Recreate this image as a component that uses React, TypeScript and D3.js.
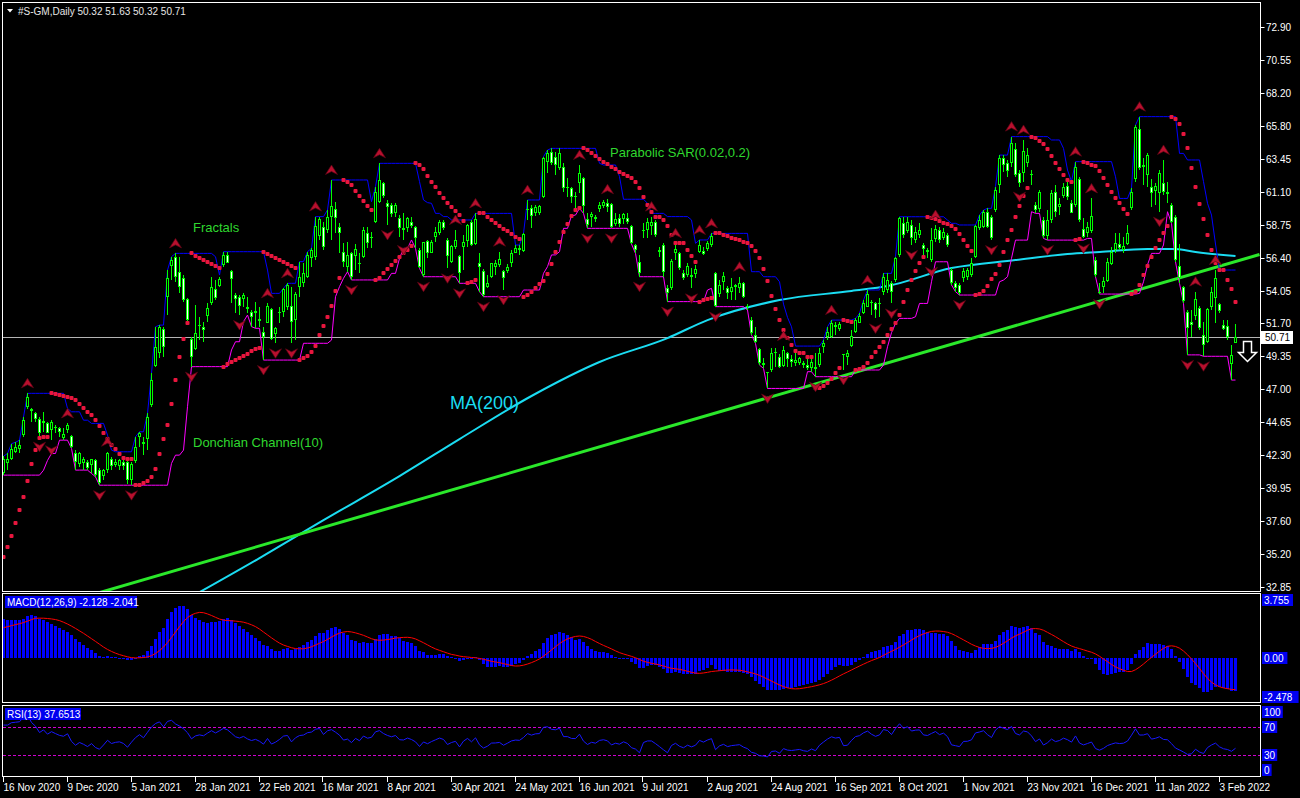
import * as d3 from "d3";

// daily candles, 16 Nov 2020 .. 8 Feb 2022
const opens = [
  41.0, 41.75, 42.0, 42.5, 42.7, 43.7, 45.75, 45.55, 45.26, 44.9,
  44.6, 44.6, 44.07, 44.31, 44.2, 43.54, 44.07, 43.64, 42.4, 41.64,
  41.69, 41.76, 41.57, 41.92, 41.21, 40.78, 41.21, 42.04, 41.57, 41.5,
  41.8, 41.8, 40.49, 41.88, 43.59, 43.23, 43.4, 45.86, 48.65, 49.55,
  51.27, 53.56, 55.8, 56.47, 55.4, 54.93, 53.42, 50.56, 49.85, 51.5,
  51.47, 52.23, 53.14, 54.14, 54.4, 55.88, 56.59, 55.45, 53.73, 53.61,
  53.42, 52.85, 52.54, 52.47, 51.99, 51.11, 51.75, 52.71, 50.94, 52.47,
  52.54, 52.9, 52.97, 51.94, 54.28, 54.61, 55.0, 56.36, 56.43, 57.95,
  58.57, 58.38, 59.29, 59.86, 58.57, 56.83, 55.76, 56.71, 56.5, 56.0,
  56.47, 58.19, 57.79, 58.98, 60.41, 61.72, 60.34, 60.17, 59.57, 59.22,
  58.55, 58.5, 58.95, 58.62, 56.95, 55.16, 57.62, 56.76, 57.86, 58.14,
  58.98, 57.67, 56.12, 57.14, 56.52, 57.19, 57.62, 58.98, 57.38, 56.05,
  55.47, 54.33, 55.04, 55.71, 55.88, 55.47, 55.47, 56.0, 56.76, 57.1,
  56.9, 59.8, 59.97, 59.57, 59.62, 60.77, 63.27, 63.98, 63.63, 62.79,
  62.91, 61.48, 61.36, 60.81, 61.72, 62.08, 59.15, 59.29, 59.29, 59.86,
  60.1, 60.29, 60.24, 58.81, 59.22, 59.15, 59.22, 58.67, 57.31, 56.12,
  58.3, 58.38, 58.67, 58.98, 56.95, 57.31, 54.21, 54.21, 56.76, 56.71,
  55.33, 55.16, 55.16, 55.23, 56.83, 56.9, 57.0, 57.31, 55.28, 53.8,
  54.68, 54.21, 53.97, 54.33, 54.21, 54.62, 52.94, 51.94, 50.87, 49.85,
  48.84, 48.2, 48.37, 49.56, 49.32, 48.65, 49.61, 49.13, 48.89, 48.84,
  48.84, 48.72, 48.48, 48.6, 48.72, 50.03, 50.7, 50.7, 51.58, 51.27,
  49.44, 49.32, 50.08, 51.11, 51.75, 52.42, 52.85, 53.25, 53.13, 53.18,
  53.97, 54.09, 54.56, 54.8, 56.59, 58.86, 58.33, 58.74, 57.66, 58.02,
  57.31, 56.95, 56.23, 57.72, 58.38, 57.78, 58.02, 55.52, 54.56, 54.45,
  54.92, 55.04, 55.16, 56.47, 58.5, 58.59, 59.69, 59.33, 59.81, 61.6,
  63.51, 63.2, 63.2, 64.15, 62.43, 62.48, 63.15, 62.38, 60.17, 59.86,
  59.09, 57.95, 59.09, 61.12, 60.0, 60.82, 61.53, 60.29, 60.17, 62.0,
  58.43, 58.19, 58.33, 56.23, 53.97, 54.33, 54.75, 55.95, 56.95, 57.38,
  56.97, 57.38, 59.93, 62.0, 65.58, 63.03, 62.31, 61.48, 61.2, 61.0,
  61.77, 61.12, 60.17, 59.28, 55.81, 54.28, 52.54, 51.82, 52.23, 52.78,
  50.87, 50.39, 52.89, 53.49, 53.06, 51.58, 51.51, 48.79, 50.32,
];
const highs = [
  42.2, 42.4, 43.1, 43.2, 43.35, 45.0, 46.7, 45.62, 45.38, 45.0,
  45.38, 44.67, 44.78, 44.43, 44.31, 44.19, 44.55, 43.71, 42.64, 42.52,
  42.16, 41.92, 42.04, 42.04, 41.33, 41.26, 42.52, 42.16, 42.04, 42.04,
  42.04, 42.04, 41.8, 43.59, 43.95, 43.59, 45.26, 48.12, 51.46, 51.58,
  51.46, 55.51, 56.47, 56.71, 56.47, 55.16, 53.49, 50.75, 53.02, 52.18,
  51.83, 53.14, 55.04, 54.81, 55.04, 56.83, 56.83, 55.52, 53.85, 53.73,
  53.85, 53.61, 52.66, 53.26, 52.9, 51.47, 53.14, 52.78, 51.47, 52.9,
  54.21, 54.57, 54.33, 53.97, 56.12, 56.0, 56.83, 57.07, 59.34, 59.29,
  58.98, 59.81, 61.96, 60.41, 58.86, 57.43, 57.55, 56.83, 57.4, 56.71,
  58.62, 58.62, 58.26, 61.48, 63.15, 61.84, 60.53, 60.34, 60.29, 59.46,
  59.57, 59.34, 59.34, 58.67, 57.07, 57.55, 57.67, 57.67, 58.62, 59.1,
  59.1, 57.79, 57.31, 58.38, 56.59, 58.02, 58.81, 59.1, 59.57, 56.71,
  55.57, 55.16, 56.05, 56.24, 56.83, 55.52, 55.95, 56.95, 57.31, 57.3,
  58.14, 60.53, 60.17, 60.2, 60.2, 63.63, 64.1, 64.22, 63.98, 64.22,
  63.15, 62.08, 61.48, 61.12, 63.03, 62.2, 59.57, 59.69, 59.45, 60.41,
  60.53, 60.58, 60.29, 59.57, 59.53, 59.57, 59.57, 58.74, 57.38, 56.59,
  58.86, 59.22, 59.34, 59.1, 57.19, 57.43, 54.45, 56.28, 57.43, 56.83,
  55.52, 56.0, 55.64, 55.88, 57.67, 57.19, 57.6, 58.14, 55.4, 54.8,
  55.4, 54.38, 54.92, 54.5, 55.04, 54.68, 53.08, 52.13, 51.46, 49.91,
  49.2, 48.25, 49.91, 49.91, 49.51, 50.08, 49.68, 49.44, 49.56, 49.32,
  49.03, 49.32, 49.2, 49.56, 49.91, 50.51, 51.46, 51.94, 51.82, 51.82,
  49.51, 49.8, 51.23, 52.06, 52.42, 53.37, 54.09, 53.37, 53.25, 53.49,
  55.28, 55.28, 54.7, 56.47, 59.33, 59.33, 59.33, 59.09, 58.62, 58.86,
  57.43, 57.07, 58.5, 58.74, 58.62, 58.5, 58.14, 55.64, 54.7, 54.56,
  55.64, 55.64, 56.35, 58.74, 59.45, 59.81, 59.93, 59.45, 61.48, 63.74,
  63.74, 63.39, 65.06, 64.58, 62.67, 64.82, 64.22, 62.67, 60.41, 61.24,
  59.33, 59.81, 61.24, 61.6, 60.64, 61.72, 61.84, 60.53, 63.27, 62.19,
  59.21, 58.98, 60.64, 56.47, 54.56, 55.04, 56.35, 57.19, 58.14, 58.14,
  57.9, 58.74, 61.36, 65.89, 66.49, 63.51, 63.86, 62.0, 61.72, 62.67,
  63.39, 61.84, 60.29, 59.45, 57.38, 54.38, 52.66, 52.66, 53.97, 52.95,
  51.82, 52.78, 54.33, 55.52, 53.13, 51.94, 51.94, 50.15, 51.63,
];
const lows = [
  40.85, 41.2, 41.9, 42.4, 42.4, 43.6, 45.6, 44.67, 44.67, 43.6,
  43.95, 43.83, 43.35, 43.83, 43.6, 43.35, 43.83, 42.76, 41.21, 41.45,
  41.21, 41.21, 40.97, 40.73, 40.13, 40.49, 40.97, 41.21, 41.45, 41.21,
  41.21, 40.25, 40.13, 41.69, 42.88, 42.28, 42.64, 45.74, 48.6, 49.2,
  49.31, 52.3, 54.8, 54.68, 53.85, 53.26, 51.83, 48.61, 49.8, 50.51,
  50.39, 51.83, 53.02, 53.38, 54.33, 55.76, 56.0, 53.14, 52.42, 52.3,
  52.9, 52.42, 51.47, 51.35, 51.47, 49.08, 51.71, 50.51, 50.28, 51.71,
  52.18, 52.66, 50.28, 50.51, 53.61, 54.33, 54.93, 55.76, 56.24, 57.67,
  56.95, 58.14, 57.67, 58.14, 56.71, 55.76, 55.4, 54.81, 55.5, 55.28,
  56.35, 57.07, 57.07, 58.86, 60.29, 60.65, 58.74, 59.29, 59.34, 57.9,
  57.67, 58.26, 58.5, 57.07, 55.64, 55.04, 56.35, 56.71, 57.55, 58.02,
  58.38, 55.64, 56.0, 57.0, 54.57, 55.52, 57.19, 57.24, 57.31, 53.97,
  53.61, 54.21, 54.93, 55.16, 55.76, 54.09, 55.28, 55.76, 56.71, 56.6,
  56.83, 59.1, 58.5, 59.4, 59.45, 60.65, 62.43, 63.03, 62.32, 62.67,
  61.12, 60.77, 60.29, 59.93, 61.0, 59.57, 58.5, 58.62, 58.98, 59.69,
  59.93, 59.69, 58.5, 58.67, 58.62, 58.81, 58.81, 57.38, 56.71, 55.04,
  57.79, 57.79, 58.02, 57.9, 56.47, 55.04, 53.26, 54.09, 56.24, 55.52,
  54.81, 55.04, 54.21, 54.92, 56.71, 56.59, 56.9, 57.19, 52.9, 53.61,
  54.09, 53.42, 53.37, 53.37, 53.85, 53.49, 52.66, 50.87, 50.27, 48.72,
  48.48, 47.05, 48.25, 48.6, 48.48, 48.6, 48.6, 48.6, 48.65, 48.72,
  48.48, 48.37, 48.25, 47.89, 48.6, 49.56, 50.51, 50.63, 50.87, 51.18,
  48.37, 48.72, 50.03, 51.04, 51.7, 52.37, 52.85, 52.3, 52.06, 52.18,
  53.73, 53.85, 53.13, 54.68, 56.47, 57.78, 58.14, 57.31, 57.43, 57.78,
  56.59, 56.35, 56.11, 57.55, 57.43, 57.66, 57.19, 54.45, 53.97, 53.73,
  54.68, 54.8, 55.04, 56.35, 58.38, 58.5, 58.5, 57.66, 59.69, 61.0,
  62.55, 62.19, 62.91, 62.19, 61.48, 61.84, 62.91, 61.6, 59.57, 59.69,
  57.78, 57.66, 58.86, 59.33, 59.45, 60.64, 60.53, 59.57, 60.05, 58.98,
  57.78, 57.9, 58.14, 55.04, 53.8, 53.85, 54.68, 55.89, 56.71, 56.95,
  56.71, 57.31, 59.81, 61.84, 62.67, 61.6, 61.48, 60.05, 60.17, 59.69,
  60.88, 60.29, 58.86, 56.11, 54.56, 53.13, 49.45, 50.75, 51.94, 51.23,
  49.35, 50.27, 52.66, 51.7, 52.47, 51.23, 50.51, 47.65, 50.32,
];
const closes = [
  42.0, 42.0, 42.7, 42.85, 43.0, 44.8, 46.45, 45.45, 44.9, 43.83,
  44.7, 43.88, 44.67, 44.3, 43.95, 43.78, 44.43, 42.83, 41.8, 42.45,
  41.97, 41.33, 41.97, 40.85, 40.3, 41.21, 42.4, 41.5, 41.8, 41.92,
  41.5, 40.49, 41.64, 42.88, 43.83, 43.07, 45.02, 47.65, 50.03, 51.41,
  50.03, 54.92, 56.23, 55.04, 54.33, 53.38, 51.94, 49.32, 50.99, 51.6,
  51.23, 52.78, 54.33, 53.49, 54.85, 56.59, 56.05, 54.85, 53.47, 52.95,
  53.73, 52.76, 52.13, 52.61, 51.9, 50.75, 52.95, 50.56, 51.35, 52.52,
  54.14, 54.45, 51.83, 53.8, 55.0, 55.28, 56.59, 56.95, 58.67, 59.15,
  57.14, 59.34, 60.1, 59.22, 58.14, 56.12, 56.59, 55.04, 57.0, 55.95,
  58.38, 57.43, 57.9, 61.12, 61.96, 60.82, 60.05, 59.53, 60.17, 58.5,
  58.38, 59.22, 58.67, 57.79, 55.76, 57.5, 56.71, 57.55, 58.26, 58.98,
  58.5, 56.52, 57.24, 57.67, 55.33, 57.55, 58.74, 57.31, 59.15, 55.71,
  53.73, 54.57, 56.0, 56.05, 56.29, 54.93, 55.76, 56.71, 57.07, 56.95,
  58.1, 59.9, 59.4, 60.0, 60.1, 63.51, 63.87, 63.15, 63.03, 63.87,
  61.36, 61.36, 60.77, 60.72, 62.43, 60.1, 58.74, 59.53, 59.19, 60.17,
  60.41, 60.05, 58.62, 59.15, 58.81, 59.5, 58.98, 57.48, 56.95, 55.28,
  58.4, 58.98, 58.98, 58.02, 56.83, 55.4, 53.85, 56.19, 57.0, 55.64,
  54.92, 55.81, 55.04, 55.57, 57.31, 56.66, 57.43, 57.95, 52.95, 54.45,
  55.09, 53.9, 54.28, 54.45, 54.62, 53.56, 52.85, 50.99, 50.39, 48.89,
  48.72, 48.15, 49.56, 49.68, 48.55, 49.8, 49.13, 48.94, 49.08, 49.2,
  48.72, 48.48, 48.96, 48.41, 49.56, 50.32, 51.11, 51.75, 51.46, 51.65,
  49.5, 49.61, 50.8, 51.94, 52.23, 53.18, 53.8, 53.13, 52.66, 53.08,
  55.0, 54.8, 53.92, 56.35, 59.21, 58.02, 58.98, 57.78, 58.26, 58.38,
  57.0, 56.83, 57.66, 58.47, 57.66, 58.26, 57.31, 54.56, 54.21, 53.85,
  55.47, 55.52, 55.99, 58.66, 59.09, 59.69, 58.62, 57.78, 61.24, 63.51,
  63.03, 62.63, 64.63, 62.31, 61.76, 64.05, 63.74, 62.28, 59.81, 61.12,
  57.95, 59.09, 61.0, 59.69, 60.24, 61.48, 60.76, 59.62, 62.91, 59.09,
  57.9, 58.62, 59.38, 55.16, 53.9, 54.75, 56.11, 56.83, 57.43, 57.07,
  57.24, 58.14, 61.12, 65.77, 62.79, 62.86, 63.74, 61.0, 61.53, 62.43,
  61.12, 60.96, 58.98, 56.23, 54.92, 53.32, 51.35, 51.58, 53.42, 51.35,
  50.15, 52.71, 53.97, 54.92, 52.61, 51.27, 50.75, 49.44, 50.71,
];

const dateLabels = [
  "16 Nov 2020", "9 Dec 2020", "5 Jan 2021", "28 Jan 2021", "22 Feb 2021",
  "16 Mar 2021", "8 Apr 2021", "30 Apr 2021", "24 May 2021", "16 Jun 2021",
  "9 Jul 2021", "2 Aug 2021", "24 Aug 2021", "16 Sep 2021", "8 Oct 2021",
  "1 Nov 2021", "23 Nov 2021", "16 Dec 2021", "11 Jan 2022", "3 Feb 2022",
];
const barsPerLabel = 16;

const priceTicks = [
  "72.90", "70.55", "68.20", "65.80", "63.45", "61.10", "58.75", "56.40", "54.05",
  "51.70", "49.35", "47.00", "44.65", "42.30", "39.95", "37.60", "35.20", "32.85",
];
const macdTicks = ["3.755", "0.00", "-2.478"];
const rsiTicks = ["100", "70", "30", "0"];

// MA(200) (bar index, price)
const maBars = [49, 64, 80, 99, 114, 132, 149, 166, 176, 194, 212, 221, 237, 253, 266, 274, 286, 293, 298, 308];
const maValues = [32.48, 34.92, 37.63, 40.78, 43.43, 46.51, 48.94, 50.65, 51.94, 53.37, 54.02, 54.37, 55.66, 56.23, 56.66, 56.81, 57.02, 57.02, 56.81, 56.52];

// hand drawn trend line (bar index, price)
const trendBars = [21, 314];
const trendPrices = [32.2, 56.63];

// indicator state before the first visible bar
const emaStart = [39.6, 37.1];
const signalStart = 1.9;
const rsiStart = [0.32, 0.12];
const sarStart = { sar: 35.0, ep: 42.2, af: 0.1 };

const lastPrice = 50.71;
const header = "#S-GM,Daily  50.32 51.63 50.32 50.71";
const macdTitle = "MACD(12,26,9) -2.128 -2.041";
const rsiTitle = "RSI(13) 37.6513";

const FONT = "'Liberation Sans', Arial, sans-serif";
const RIGHT = 1260.5;

export default function App() {
  const n = closes.length;
  const x = d3.scaleLinear().domain([0, n - 1]).range([3.5, 3.5 + 4 * (n - 1)]);
  const y = d3.scaleLinear().domain([32.85, 72.9]).range([587, 27]);
  const yM = d3.scaleLinear().domain([-2.478, 3.755]).range([696.5, 600]);
  const yR = d3.scaleLinear().domain([0, 100]).range([776, 706]);

  // MACD (EMA12 - EMA26, SMA9 signal)
  let e12 = emaStart[0], e26 = emaStart[1];
  const macd = closes.map((c) => {
    e12 = c * (2 / 13) + e12 * (11 / 13);
    e26 = c * (2 / 27) + e26 * (25 / 27);
    return e12 - e26;
  });
  const signal = macd.map((_, i) => {
    let s = 0;
    for (let j = i - 8; j <= i; j++) s += j >= 0 ? macd[j] : signalStart;
    return s / 9;
  });

  // RSI(13), Wilder smoothing
  let ag = rsiStart[0], al = rsiStart[1];
  const rsi = closes.map((c, i) => {
    if (i > 0) {
      const d = c - closes[i - 1];
      ag = (ag * 12 + Math.max(d, 0)) / 13;
      al = (al * 12 + Math.max(-d, 0)) / 13;
    }
    return 100 - 100 / (1 + ag / al);
  });

  // Parabolic SAR(0.02, 0.2)
  const sar: number[] = [];
  let up = true, af = sarStart.af, ep = sarStart.ep, s = sarStart.sar;
  for (let i = 0; i < n; i++) {
    if (i > 0) {
      s = s + af * (ep - s);
      const p2 = i > 1 ? i - 2 : i - 1;
      if (up) {
        s = Math.min(s, lows[i - 1], lows[p2]);
        if (lows[i] < s) { up = false; s = ep; ep = lows[i]; af = 0.02; }
        else if (highs[i] > ep) { ep = highs[i]; af = Math.min(af + 0.02, 0.2); }
      } else {
        s = Math.max(s, highs[i - 1], highs[p2]);
        if (highs[i] > s) { up = true; s = ep; ep = highs[i]; af = 0.02; }
        else if (lows[i] < ep) { ep = lows[i]; af = Math.min(af + 0.02, 0.2); }
      }
    }
    sar.push(s);
  }

  // Donchian(10)
  const dcHigh = highs.map((_, i) => d3.max(highs.slice(Math.max(0, i - 9), i + 1)) as number);
  const dcLow = lows.map((_, i) => d3.min(lows.slice(Math.max(0, i - 9), i + 1)) as number);

  // fractals
  const upFr: number[] = [], dnFr: number[] = [];
  for (let i = 2; i < n - 2; i++) {
    if (highs[i] > highs[i - 1] && highs[i] > highs[i - 2] && highs[i] > highs[i + 1] && highs[i] > highs[i + 2]) upFr.push(i);
    if (lows[i] < lows[i - 1] && lows[i] < lows[i - 2] && lows[i] < lows[i + 1] && lows[i] < lows[i + 2]) dnFr.push(i);
  }

  const lineIdx = d3.line<number>().x((_, i) => x(i));
  const dcHighPath = lineIdx.y((v) => y(v))(dcHigh) as string;
  const dcLowPath = d3.line<number>().x((_, i) => x(i)).y((v) => y(v))(dcLow) as string;
  const maPath = d3.line<number>().x((b) => x(b)).y((_, k) => y(maValues[k])).curve(d3.curveMonotoneX)(maBars) as string;
  const signalPath = d3.line<number>().x((_, i) => x(i)).y((v) => yM(v))(signal) as string;
  const rsiPath = d3.line<number>().x((_, i) => x(i)).y((v) => yR(v))(rsi) as string;

  const r = Math.round;

  return (
    <svg width={1300} height={798} style={{ position: "absolute", left: 0, top: 0, background: "#000" }} fontFamily={FONT}>
      <defs>
        <clipPath id="cMain"><rect x={3} y={3} width={1257} height={588} /></clipPath>
        <clipPath id="cMacd"><rect x={3} y={594} width={1257} height={108} /></clipPath>
        <clipPath id="cRsi"><rect x={3} y={706} width={1257} height={70} /></clipPath>
      </defs>
      <rect x={0} y={0} width={1300} height={798} fill="#000" />

      {/* main panel */}
      <g clipPath="url(#cMain)">
        <line x1={3} x2={RIGHT} y1={r(y(lastPrice)) + 0.5} y2={r(y(lastPrice)) + 0.5} stroke="#b4b4b4" strokeWidth={1} />
        <path d={maPath} fill="none" stroke="#1adcf2" strokeWidth={2} />
        <line x1={x(trendBars[0])} y1={y(trendPrices[0])} x2={x(trendBars[1])} y2={y(trendPrices[1])} stroke="#2ae82a" strokeWidth={3} />
        <path d={dcHighPath} fill="none" stroke="#0000ff" strokeWidth={1} />
        <path d={dcLowPath} fill="none" stroke="#ff00ff" strokeWidth={1} />
        {closes.map((c, i) => {
          const cx = x(i);
          const o = opens[i];
          const top = r(y(Math.max(o, c)));
          const bot = r(y(Math.min(o, c)));
          const h = Math.max(1, bot - top);
          return (
            <g key={i}>
              <line x1={cx} x2={cx} y1={r(y(highs[i]))} y2={r(y(lows[i]))} stroke="#00ff00" strokeWidth={1} />
              <rect x={cx - 1.5} y={top} width={3} height={h} fill="#00ff00" />
              {h > 2 && <rect x={cx - 0.5} y={top + 1} width={1} height={h - 2} fill={c >= o ? "#000" : "#ffffff"} />}
            </g>
          );
        })}
        {sar.map((v, i) => (
          <rect key={i} x={x(i) - 2} y={r(y(v)) - 2} width={4} height={4} rx={1} fill="#e8163e" />
        ))}
        {upFr.map((i) => {
          const cx = x(i), hy = y(highs[i]);
          return <path key={"u" + i} d={`M${cx},${hy - 15} L${cx + 6},${hy - 5.5} L${cx},${hy - 8.5} L${cx - 6},${hy - 5.5} Z`} fill="#b8102e" stroke="#5c0414" strokeWidth={0.7} />;
        })}
        {dnFr.map((i) => {
          const cx = x(i), ly = y(lows[i]);
          return <path key={"d" + i} d={`M${cx},${ly + 15} L${cx + 6},${ly + 5.5} L${cx},${ly + 8.5} L${cx - 6},${ly + 5.5} Z`} fill="#b8102e" stroke="#5c0414" strokeWidth={0.7} />;
        })}
        <path d="M1243.5,341.5 H1251.5 V352.5 H1256.5 L1247.5,361.5 L1238.5,352.5 H1243.5 Z" fill="#000" stroke="#ffffff" strokeWidth={1.5} />
      </g>
      <text x={193} y={232} fill="#2fd82f" fontSize={13}>Fractals</text>
      <text x={610} y={157} fill="#2fd82f" fontSize={13}>Parabolic SAR(0.02,0.2)</text>
      <text x={193} y={447} fill="#2fd82f" fontSize={13}>Donchian Channel(10)</text>
      <text x={450} y={409} fill="#1adcf2" fontSize={18}>MA(200)</text>

      <path d="M7,9 L13,9 L10,12.5 Z" fill="#ffffff" />
      <text x={18} y={15} fill="#e6e6e6" fontSize={10}>{header}</text>

      {/* macd panel */}
      <g clipPath="url(#cMacd)">
        {macd.map((v, i) => {
          const y0 = r(yM(0)), y1 = r(yM(v));
          return <rect key={i} x={x(i) - 1.5} y={Math.min(y0, y1)} width={3} height={Math.max(1, Math.abs(y1 - y0))} fill="#0000ff" />;
        })}
        <path d={signalPath} fill="none" stroke="#ff0000" strokeWidth={1} />
      </g>
      <rect x={5} y={596} width={132} height={12} fill="#0000f0" />
      <text x={7} y={606} fill="#ffffff" fontSize={10}>{macdTitle}</text>

      {/* rsi panel */}
      <g clipPath="url(#cRsi)">
        {[70, 30].map((lv) => (
          <line key={lv} x1={3} x2={RIGHT} y1={r(yR(lv)) + 0.5} y2={r(yR(lv)) + 0.5} stroke="#d000d0" strokeDasharray="3,2" />
        ))}
        <path d={rsiPath} fill="none" stroke="#1818ff" strokeWidth={1} />
      </g>
      <rect x={5} y={708} width={76} height={12} fill="#0000f0" />
      <text x={7} y={718} fill="#ffffff" fontSize={10}>{rsiTitle}</text>

      {/* frames */}
      <rect x={2.5} y={2.5} width={RIGHT - 2.5} height={589} fill="none" stroke="#ffffff" />
      <rect x={2.5} y={593.5} width={RIGHT - 2.5} height={109} fill="none" stroke="#ffffff" />
      <rect x={2.5} y={705.5} width={RIGHT - 2.5} height={71} fill="none" stroke="#ffffff" />

      {/* price axis */}
      {priceTicks.map((t) => {
        const ty = r(y(+t)) + 0.5;
        return (
          <g key={t}>
            <line x1={RIGHT} x2={RIGHT + 4} y1={ty} y2={ty} stroke="#ffffff" />
            <text x={1266} y={ty + 3.5} fill="#ffffff" fontSize={10}>{t}</text>
          </g>
        );
      })}
      <rect x={1261} y={r(y(lastPrice)) - 6} width={32} height={13} fill="#ffffff" />
      <text x={1265} y={r(y(lastPrice)) + 4} fill="#000" fontSize={10}>{lastPrice.toFixed(2)}</text>

      {macdTicks.map((t) => {
        const ty = r(yM(+t));
        return (
          <g key={t}>
            <rect x={1262} y={ty - 6} width={t.length * 5.6 + 3} height={12} fill="#0000f0" />
            <text x={1264} y={ty + 4} fill="#ffffff" fontSize={10}>{t}</text>
          </g>
        );
      })}
      {rsiTicks.map((t) => {
        const ty = Math.min(Math.max(r(yR(+t)), 712), 770);
        return (
          <g key={t}>
            <rect x={1262} y={ty - 6} width={t.length * 5.6 + 4} height={12} fill="#0000f0" />
            <text x={1264} y={ty + 4} fill="#ffffff" fontSize={10}>{t}</text>
          </g>
        );
      })}

      {/* time axis */}
      {dateLabels.map((lab, k) => {
        const tx = r(x(k * barsPerLabel)) - 0.5;
        return (
          <g key={lab}>
            <line x1={tx} x2={tx} y1={777} y2={782} stroke="#ffffff" />
            <text x={tx} y={791} fill="#ffffff" fontSize={10}>{lab}</text>
          </g>
        );
      })}
    </svg>
  );
}
